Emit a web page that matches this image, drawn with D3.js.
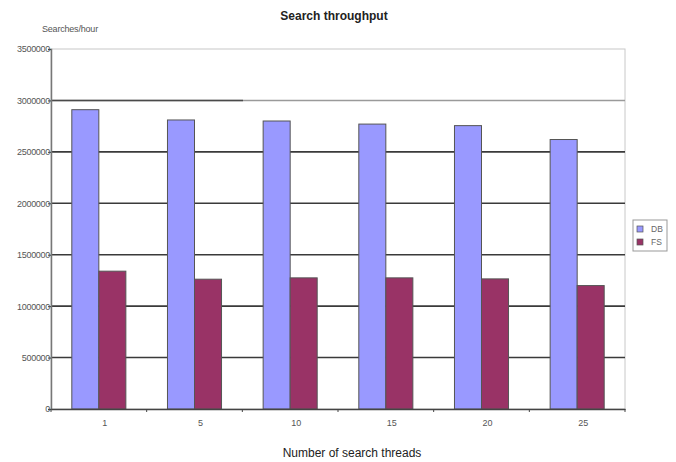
<!DOCTYPE html>
<html><head><meta charset="utf-8">
<script src="https://cdn.jsdelivr.net/npm/d3@7"></script>
<style>
body{margin:0;background:#fff;}
svg{display:block;font-family:"Liberation Sans",Arial,sans-serif;}
</style></head>
<body>
<svg id="chart" width="676" height="462"></svg>
<script>
const categories = ["1","5","10","15","20","25"];
const seriesNames = ["DB","FS"];
const dbValues = [2910000,2810000,2800000,2770000,2755000,2620000];
const fsValues = [1340000,1262000,1275000,1275000,1265000,1200000];
const yTicks = [0,500000,1000000,1500000,2000000,2500000,3000000,3500000];
const colors = ["#9999ff","#993366"];

const svg = d3.select("#chart");
const L=51, R=625, T=49, B=409;
const x = d3.scaleBand().domain(categories).range([L,R]).paddingInner(0).paddingOuter(0);
const xs = d3.scaleBand().domain(seriesNames).range([0,x.bandwidth()]).paddingInner(0).paddingOuter(0.77);
const y = d3.scaleLinear().domain([0,3500000]).range([B,T]);

// plot border (top/right light)
svg.append("rect").attr("x",L).attr("y",T).attr("width",R-L).attr("height",B-T)
  .attr("fill","none").attr("stroke","#c8c8c8").attr("stroke-width",1);

// gridlines
const g = svg.append("g");
yTicks.filter(d=>d>0 && d<3500000).forEach(d=>{
  g.append("line").attr("x1",L).attr("x2",R).attr("y1",y(d)).attr("y2",y(d))
    .attr("stroke",d===3000000?"#9a9a9a":"#3a3a3a").attr("stroke-width",1.6);
});
g.append("line").attr("x1",L).attr("x2",243).attr("y1",y(3000000)).attr("y2",y(3000000))
  .attr("stroke","#4a4a4a").attr("stroke-width",1.6);

// bars
const data = categories.map((c,i)=>({c, vals:[dbValues[i],fsValues[i]]}));
const grp = svg.append("g").selectAll("g").data(data).join("g")
  .attr("transform",d=>`translate(${x(d.c)},0)`);
grp.selectAll("rect").data(d=>d.vals.map((v,j)=>({v,s:seriesNames[j],j})))
  .join("rect")
  .attr("x",d=>xs(d.s)).attr("width",xs.bandwidth())
  .attr("y",d=>y(d.v)).attr("height",d=>B-y(d.v))
  .attr("fill",d=>colors[d.j]).attr("stroke","#555").attr("stroke-width",1);

// y axis
const yAxis = d3.axisLeft(y).tickValues(yTicks).tickSize(3).tickFormat(d3.format("d"));
const ya = svg.append("g").attr("transform",`translate(${L},0)`).call(yAxis);
ya.select(".domain").attr("stroke","#777").attr("stroke-width",1.5);
ya.selectAll(".tick line").attr("stroke","#444");
ya.selectAll(".tick text").attr("font-size",9).attr("fill","#555").attr("x",-1)
  .attr("letter-spacing",-0.3);

// x axis
const xAxis = d3.axisBottom(x).tickSize(0);
const xa = svg.append("g").attr("transform",`translate(0,${B})`).call(xAxis);
xa.select(".domain").attr("stroke","#444").attr("stroke-width",1.5);
xa.selectAll(".tick text").attr("font-size",9).attr("fill","#555").attr("dy","0.71em").attr("y",11).attr("x",6);
// band boundary ticks
const bounds = categories.map(c=>x(c)).concat([R]);
svg.append("g").selectAll("line").data(bounds).join("line")
  .attr("x1",d=>d).attr("x2",d=>d).attr("y1",B).attr("y2",B+3)
  .attr("stroke","#444").attr("stroke-width",1);

// titles
svg.append("text").attr("x",334).attr("y",20).attr("text-anchor","middle")
  .attr("font-size",12).attr("font-weight","bold").attr("fill","#222").text("Search throughput");
svg.append("text").attr("x",42).attr("y",32).attr("font-size",9).attr("fill","#555")
  .attr("letter-spacing",-0.2).text("Searches/hour");
svg.append("text").attr("x",352).attr("y",457).attr("text-anchor","middle")
  .attr("font-size",12).attr("fill","#222").text("Number of search threads");

// legend
const lg = svg.append("g").attr("transform","translate(633,220)");
lg.append("rect").attr("width",34).attr("height",31).attr("fill","#fff").attr("stroke","#999");
seriesNames.forEach((s,i)=>{
  lg.append("rect").attr("x",4).attr("y",6+i*13).attr("width",6).attr("height",6)
    .attr("fill",colors[i]).attr("stroke","#555").attr("stroke-width",0.7);
  lg.append("text").attr("x",18).attr("y",12+i*13).attr("font-size",8.5).attr("fill","#666").text(s);
});
</script>
</body></html>
